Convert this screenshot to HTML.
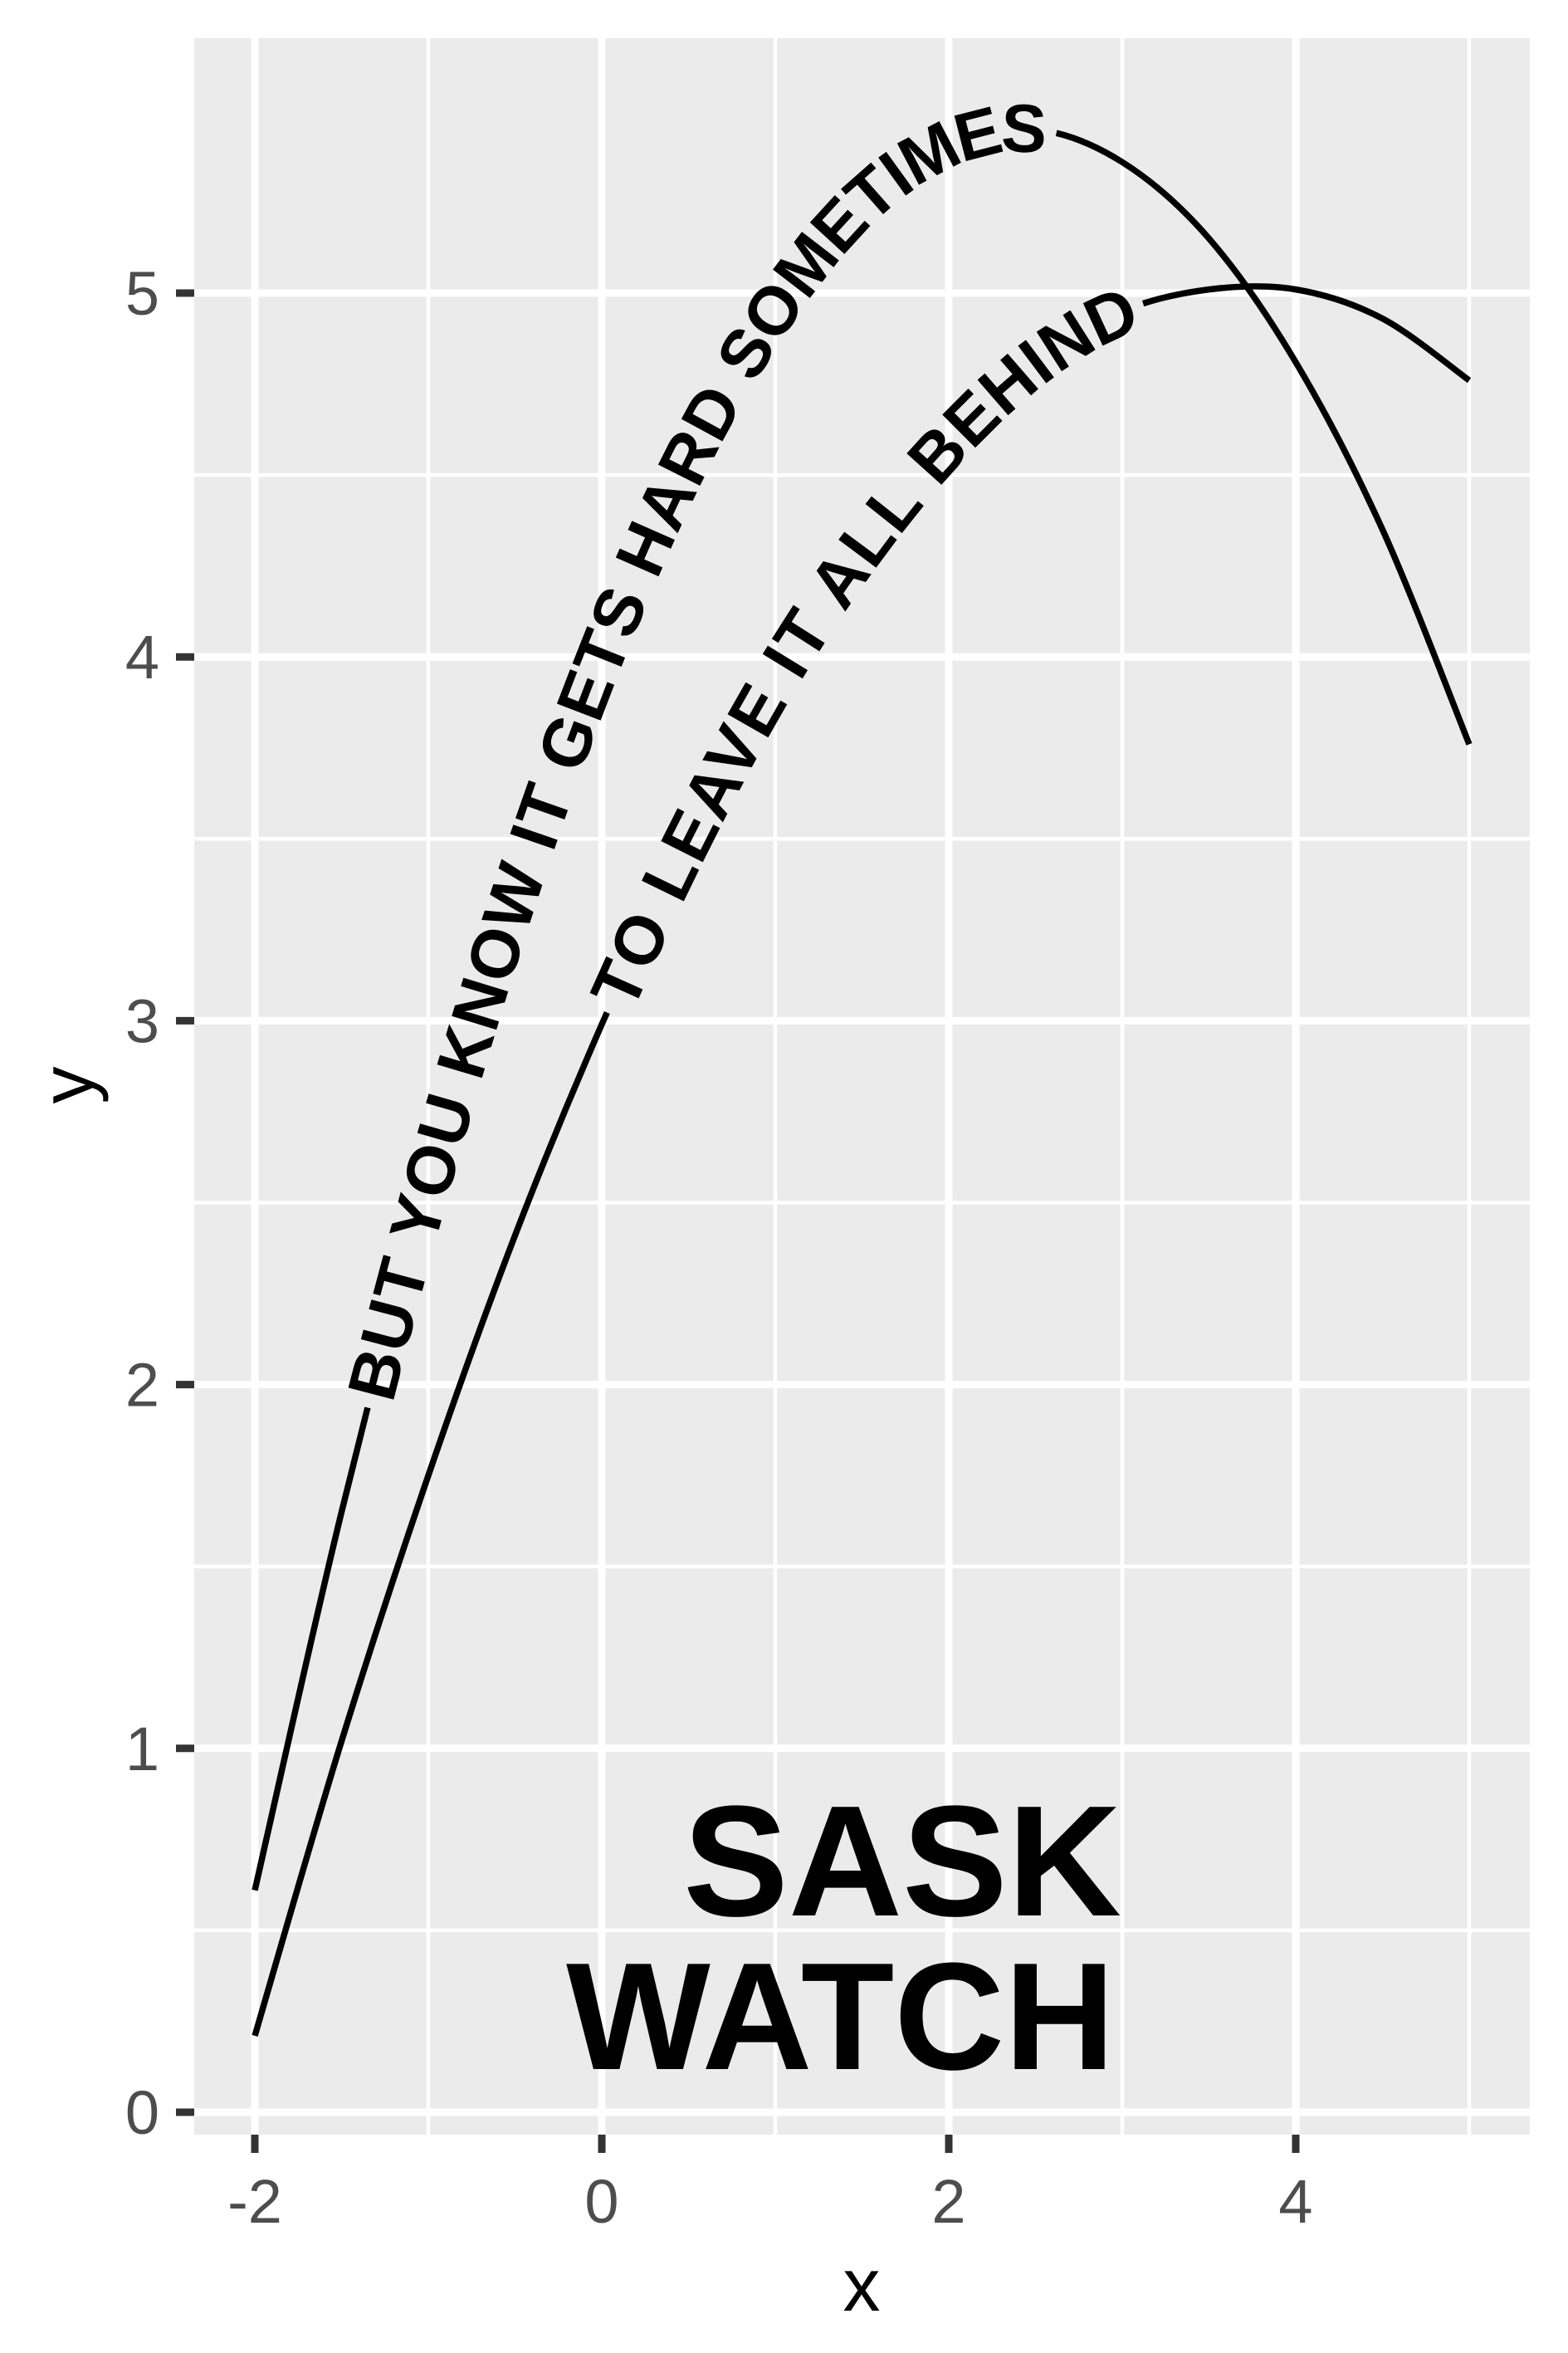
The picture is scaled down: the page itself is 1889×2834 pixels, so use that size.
<!DOCTYPE html>
<html><head><meta charset="utf-8"><style>
html,body{margin:0;padding:0;background:#fff}
svg{display:block}
text{font-family:"Liberation Sans",Arial,sans-serif}
</style></head><body>
<svg id="chart" width="1889" height="2834" viewBox="0 0 1889 2834" xmlns="http://www.w3.org/2000/svg">
<rect x="0" y="0" width="1889" height="2834" fill="#fff"/>
<rect x="234" y="46" width="1609" height="2525" fill="#EBEBEB"/>
<g id="grid"></g>
<g id="series"></g>
<g id="axes"></g>
<text x="1351" y="2307" text-anchor="end" font-size="190" font-weight="bold" fill="#000">SASK</text>
<text x="1343" y="2492" text-anchor="end" font-size="184" font-weight="bold" fill="#000">WATCH</text>
<text x="1038" y="2783" text-anchor="middle" font-size="90" fill="#000">x</text>
<text x="0" y="0" transform="translate(112,1307) rotate(-90)" text-anchor="middle" font-size="90" fill="#000">y</text>
</svg>
<script>
const xs = [-2,-1.5,-1,-0.5,0,0.5,1,1.5,2,2.5,3,3.5,4,4.5,5];
const seriesA = [0.61,1.65,2.56,3.35,4.01,4.55,4.96,5.25,5.41,5.45,5.36,5.15,4.81,4.35,3.76];
const seriesB = [0.21,1.02,1.75,2.41,2.99,3.50,3.94,4.30,4.59,4.81,4.95,5.01,5.01,4.93,4.76];
const labelA = "BUT YOU KNOW IT GETS HARD SOMETIMES";
const labelB = "TO LEAVE IT ALL BEHIND";
const labelRangeA = [-1.35, 2.62];
const labelRangeB = [0.03, 3.12];
const xTicks = [-2,0,2,4];
const yTicks = [0,1,2,3,4,5];
const xMinor = [-1,1,3,5];
const yMinor = [0.5,1.5,2.5,3.5,4.5];

const NS="http://www.w3.org/2000/svg";
const PL=234,PT=46,PR=1843,PB=2571;
function sx(v){return 725+v*209;}
function sy(v){return 2544-v*438.2;}
function mk(tag,attrs,parent){const e=document.createElementNS(NS,tag);for(const k in attrs)e.setAttribute(k,attrs[k]);parent.appendChild(e);return e;}

const grid=document.getElementById('grid');
xMinor.forEach(v=>{const e=mk('line',{x1:sx(v),x2:sx(v),y1:PT,y2:PB,stroke:'#fff','stroke-width':4.5},grid);

});
yMinor.forEach(v=>{const e=mk('line',{x1:PL,x2:PR,y1:sy(v),y2:sy(v),stroke:'#fff','stroke-width':4.5},grid);

});
xTicks.forEach(v=>{const e=mk('line',{x1:sx(v),x2:sx(v),y1:PT,y2:PB,stroke:'#fff','stroke-width':9},grid);

});
yTicks.forEach(v=>{const e=mk('line',{x1:PL,x2:PR,y1:sy(v),y2:sy(v),stroke:'#fff','stroke-width':9},grid);

});

const axes=document.getElementById('axes');
xTicks.forEach(v=>{
 const t=mk('line',{x1:sx(v),x2:sx(v),y1:PB,y2:PB+22,stroke:'#333','stroke-width':9},axes);
 
 
 const l=mk('text',{x:sx(v),y:2677,'text-anchor':'middle','font-size':74,fill:'#4D4D4D'},axes);
 l.textContent=String(v);
 
 
});
yTicks.forEach(v=>{
 const t=mk('line',{x1:PL-22,x2:PL,y1:sy(v),y2:sy(v),stroke:'#333','stroke-width':9},axes);
 
 
 const l=mk('text',{x:192,y:sy(v)+26,'text-anchor':'end','font-size':74,fill:'#4D4D4D'},axes);
 l.textContent=String(v);
 
 
});

function pathD(ys){
 const p=xs.map((x,i)=>[sx(x),sy(ys[i])]);
 let d='M'+p[0][0]+','+p[0][1];
 for(let i=0;i<p.length-1;i++){
  const p0=p[i-1]||p[i],p1=p[i],p2=p[i+1],p3=p[i+2]||p[i+1];
  const c1=[p1[0]+(p2[0]-p0[0])/6,p1[1]+(p2[1]-p0[1])/6];
  const c2=[p2[0]-(p3[0]-p1[0])/6,p2[1]-(p3[1]-p1[1])/6];
  d+=' C'+c1[0]+','+c1[1]+' '+c2[0]+','+c2[1]+' '+p2[0]+','+p2[1];
 }
 return d;
}
const series=document.getElementById('series');
function lenAtX(path,total,xv){
 const target=sx(xv);let lo=0,hi=total;
 for(let k=0;k<40;k++){const m=(lo+hi)/2;if(path.getPointAtLength(m).x<target)lo=m;else hi=m;}
 return lo;
}
function drawSeries(ys,label,range,id,nm){
 const d=pathD(ys);
 const guide=mk('path',{id:id,d:d,fill:'none',stroke:'none'},series);
 
 
 const total=guide.getTotalLength();
 const a=lenAtX(guide,total,range[0]),b=lenAtX(guide,total,range[1]);
 const line=mk('path',{d:d,fill:'none',stroke:'#000','stroke-width':7.5,'stroke-dasharray':a+' '+(b-a)+' '+(total-b+10)},series);
 
 
 const t=mk('text',{'font-size':82,'font-weight':'bold',fill:'#000','dominant-baseline':'central'},series);
 
 
 const tp=mk('textPath',{href:'#'+id,startOffset:a+12,textLength:(b-a-24),lengthAdjust:'spacing'},t);
 tp.textContent=label;
}
drawSeries(seriesA,labelA,labelRangeA,'pathA','series-a');
drawSeries(seriesB,labelB,labelRangeB,'pathB','series-b');
</script>
</body></html>
